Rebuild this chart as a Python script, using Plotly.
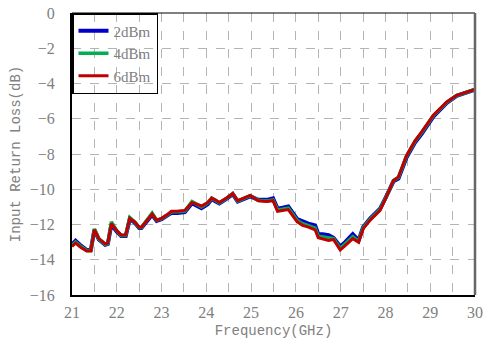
import plotly.graph_objects as go

freq = [21.00, 21.08, 21.2, 21.33, 21.42, 21.5, 21.6, 21.74, 21.8, 21.88, 22.0, 22.1, 22.2, 22.29,
        22.4, 22.5, 22.55, 22.7, 22.79, 22.89, 23.0, 23.15, 23.22, 23.35, 23.52, 23.68, 23.8, 23.89,
        24.03, 24.12, 24.2, 24.29, 24.45, 24.59, 24.7, 24.85, 24.98, 25.16, 25.35, 25.49, 25.59, 25.7,
        25.83, 26.03, 26.15, 26.28, 26.43, 26.5, 26.6, 26.73, 26.84, 26.99, 27.1, 27.27, 27.4, 27.5,
        27.66, 27.88, 28.0, 28.07, 28.18, 28.29, 28.47, 28.66, 28.81, 29.07, 29.37, 29.59, 29.74, 30.0]

rl_2dbm = [-13.12, -12.92, -13.2, -13.45, -13.45, -12.3, -12.85, -13.15, -13.1, -12.0, -12.4, -12.65,
           -12.65, -11.7, -11.9, -12.2, -12.2, -11.75, -11.45, -11.8, -11.7, -11.45, -11.35, -11.35,
           -11.3, -10.8, -10.95, -11.08, -10.85, -10.55, -10.68, -10.8, -10.55, -10.28, -10.7, -10.55,
           -10.4, -10.6, -10.6, -10.52, -11.1, -11.05, -10.98, -11.7, -11.85, -11.95, -12.05, -12.55,
           -12.55, -12.6, -12.75, -13.25, -13.0, -12.55, -12.9, -12.15, -11.65, -11.1, -10.5, -10.1,
           -9.55, -9.4, -8.2, -7.35, -6.85, -5.88, -5.1, -4.7, -4.56, -4.35]

rl_4dbm = [-13.2, -13.0, -13.25, -13.48, -13.48, -12.25, -12.82, -13.12, -13.08, -11.85, -12.35, -12.62,
           -12.62, -11.6, -11.85, -12.17, -12.17, -11.7, -11.35, -11.75, -11.67, -11.42, -11.28, -11.28,
           -11.24, -10.7, -10.88, -11.0, -10.78, -10.5, -10.62, -10.77, -10.52, -10.24, -10.67, -10.52,
           -10.36, -10.63, -10.66, -10.6, -11.18, -11.13, -11.07, -11.78, -11.96, -12.06, -12.2, -12.66,
           -12.7, -12.78, -12.8, -13.36, -13.1, -12.7, -12.96, -12.2, -11.7, -11.15, -10.53, -10.08,
           -9.5, -9.33, -8.12, -7.28, -6.78, -5.82, -5.07, -4.68, -4.54, -4.34]

rl_6dbm = [-13.25, -13.05, -13.3, -13.5, -13.5, -12.3, -12.8, -13.1, -13.05, -11.95, -12.35, -12.6,
           -12.6, -11.65, -11.85, -12.15, -12.15, -11.7, -11.4, -11.75, -11.65, -11.4, -11.25, -11.25,
           -11.2, -10.75, -10.85, -10.95, -10.75, -10.5, -10.6, -10.75, -10.5, -10.25, -10.65, -10.5,
           -10.35, -10.65, -10.7, -10.65, -11.25, -11.2, -11.15, -11.85, -12.05, -12.15, -12.3, -12.75,
           -12.8, -12.9, -12.85, -13.45, -13.2, -12.8, -13.0, -12.25, -11.75, -11.2, -10.55, -10.1,
           -9.5, -9.3, -8.1, -7.25, -6.75, -5.8, -5.05, -4.67, -4.53, -4.33]

names = ["2dBm", "4dBm", "6dBm"]
colors = ["#0000c8", "#00b050", "#c00000"]
widths = [4, 3.5, 3]

SERIF = "Times New Roman, Liberation Serif, serif"
MONO = "Liberation Mono"
GRAY = "#808080"

fig = go.Figure()
for name, ys, c, w in zip(names, [rl_2dbm, rl_4dbm, rl_6dbm], colors, widths):
    fig.add_trace(go.Scatter(x=freq, y=ys, mode="lines", name=name,
                             line=dict(color=c, width=w)))

grid = dict(showgrid=True, gridcolor="#b4b4b4", griddash="dash", gridwidth=1)
tickfont = dict(family=SERIF, size=16, color=GRAY)
titlefont = dict(family=MONO, size=14, color=GRAY)

fig.update_xaxes(range=[21, 30], dtick=1, tick0=21, **grid,
                 minor=dict(dtick=0.5, showgrid=True, gridcolor="#b4b4b4", griddash="dash"),
                 showline=True, linecolor="black", linewidth=2, zeroline=False,
                 ticks="", tickfont=tickfont, ticklabelstandoff=2, automargin=False,
                 title=dict(text="Frequency(GHz)", font=titlefont, standoff=6))
fig.update_yaxes(range=[-16, 0], dtick=2, tick0=0, **grid,
                 showline=True, linecolor="black", linewidth=2, zeroline=False,
                 ticks="", tickfont=tickfont, ticklabelstandoff=12, automargin=False,
                 title=dict(text="Input Return Loss(dB)", font=titlefont, standoff=6))

fig.add_shape(type="line", xref="paper", yref="paper", x0=0, x1=1, y0=1, y1=1,
              line=dict(color="black", width=1.2))
fig.add_shape(type="line", xref="paper", yref="paper", x0=1, x1=1, y0=0, y1=1,
              line=dict(color="#666666", width=2.5))

fig.update_layout(
    width=485, height=339,
    margin=dict(l=72, r=10, t=13, b=44),
    plot_bgcolor="white", paper_bgcolor="white",
    font=dict(family=SERIF, color=GRAY),
    showlegend=True,
    legend=dict(x=0, y=1, xanchor="left", yanchor="top",
                bgcolor="rgba(0,0,0,0)", bordercolor="black", borderwidth=1.5,
                font=dict(family=SERIF, size=15, color=GRAY),
                itemwidth=30, tracegroupgap=0),
)

fig.write_html("out.html")
